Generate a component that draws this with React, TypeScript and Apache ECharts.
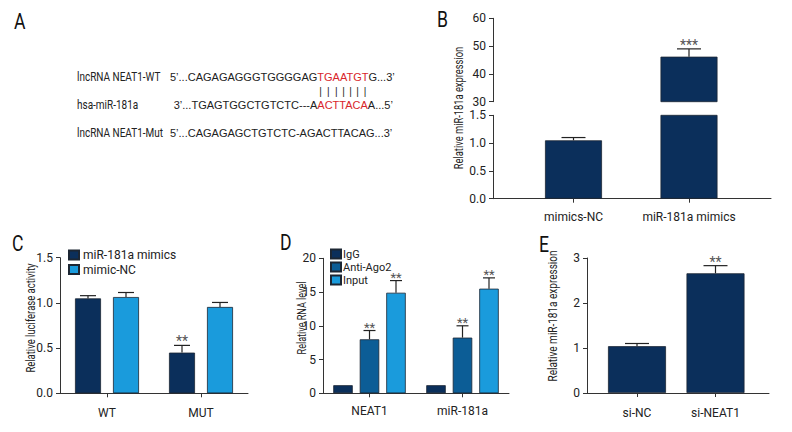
import React, { useEffect, useRef } from "react";
import * as echarts from "echarts";

const COND = 'Roboto, "Liberation Sans", sans-serif';
const SEQ = '"Liberation Sans", "Open Sans", sans-serif';

const DARK = "#0b2f5b";
const MID = "#0c5d96";
const LIGHT = "#1a9bdc";
const INK = "#222222";
const RED = "#d9262b";

// Panel A
const seqNames = ["lncRNA NEAT1-WT", "hsa-miR-181a", "lncRNA NEAT1-Mut"];
const wtParts = ["5’...CAGAGAGGGTGGGGAG", "TGAATGT", "G...3’"];
const mirParts = ["3’...TGAGTGGCTGTCTC---A", "ACTTACA", "A...5’"];
const mutSeq = "5’...CAGAGAGCTGTCTC-AGACTTACAG...3’";

// Panel B
const bCategories = ["mimics-NC", "miR-181a mimics"];
const bValues = [1.05, 46.2];
const bErrors = [1.1, 49.0];
const bSig = ["", "***"];
const bUpperRange = [30, 60, 10];
const bLowerRange = [0, 1.5, 0.5];

// Panel C
const cCategories = ["WT", "MUT"];
const cSeriesNames = ["miR-181a mimics", "mimic-NC"];
const cMimics = [1.05, 0.45];
const cMimicsErr = [1.08, 0.53];
const cMimicsSig = ["", "**"];
const cNC = [1.065, 0.955];
const cNCErr = [1.115, 1.005];
const cNCSig = ["", ""];
const cRange = [0, 1.5, 0.5];

// Panel D
const dCategories = ["NEAT1", "miR-181a"];
const dSeriesNames = ["IgG", "Anti-Ago2", "Input"];
const dIgG = [1.2, 1.2];
const dAgo = [8.0, 8.25];
const dAgoErr = [9.3, 10.0];
const dAgoSig = ["**", "**"];
const dInput = [14.9, 15.5];
const dInputErr = [16.7, 17.1];
const dInputSig = ["**", "**"];
const dRange = [0, 20, 5];

// Panel E
const eCategories = ["si-NC", "si-NEAT1"];
const eValues = [1.04, 2.66];
const eErr = [1.1, 2.83];
const eSig = ["", "**"];
const eRange = [0, 3, 1];

const axisLine = { show: true, onZero: false, lineStyle: { color: "#333", width: 1 } };
const tick = { show: true, length: 4, lineStyle: { color: "#333", width: 1 } };
const lbl = { color: INK, fontFamily: COND, fontSize: 12 };

function yVal(gridIndex: number, range: number[], digits: number, offset = 0) {
  return {
    type: "value", gridIndex, min: range[0], max: range[1], interval: range[2], offset,
    axisLine, axisTick: tick, splitLine: { show: false },
    axisLabel: { ...lbl, margin: 7, formatter: (v: number) => v.toFixed(digits) },
  };
}
function yHidden(gridIndex: number, range: number[]) {
  return { type: "value", gridIndex, min: range[0], max: range[1], show: false, splitLine: { show: false } };
}
function xCat(gridIndex: number, data: string[], showLine = true, show = true, margin = 13) {
  return {
    type: "category", gridIndex, data, show,
    axisLine: { ...axisLine, show: showLine },
    axisTick: { ...tick, alignWithLabel: true },
    axisLabel: { ...lbl, margin, interval: 0 },
    splitLine: { show: false },
  };
}
function xLine(gridIndex: number) {
  return {
    type: "value", gridIndex, min: 0, max: 1, axisLine,
    axisTick: { show: false }, axisLabel: { show: false }, splitLine: { show: false },
  };
}

function errorBars(xi: number, idx: number[], vals: number[], errs: number[], sig: string[], offset: number, capHalf: number, sigSize = 14) {
  return {
    type: "custom", xAxisIndex: xi, yAxisIndex: xi, silent: true, z: 5, clip: false,
    data: idx.map((i) => [i, vals[i], errs[i]]),
    renderItem: (_params: any, api: any) => {
      const i = api.value(0);
      const base = api.coord([i, api.value(1)]);
      const top = api.coord([i, api.value(2)]);
      const x = base[0] + offset;
      const st = { stroke: INK, lineWidth: 1.2 };
      const children: any[] = [
        { type: "line", shape: { x1: x, y1: base[1], x2: x, y2: top[1] }, style: st },
        { type: "line", shape: { x1: x - capHalf, y1: top[1], x2: x + capHalf, y2: top[1] }, style: st },
      ];
      if (sig[i]) {
        children.push({
          type: "text", x, y: top[1] + 3,
          style: {
            text: sig[i], fill: "#555", fontSize: sigSize, fontFamily: COND,
            align: "center", verticalAlign: "bottom", textAlign: "center", textVerticalAlign: "bottom",
          },
        });
      }
      return { type: "group", children };
    },
  };
}

function bar(name: string, xi: number, data: any[], color: string, width: number, gap = "30%") {
  return {
    name, type: "bar", xAxisIndex: xi, yAxisIndex: xi, data, barWidth: width, barGap: gap,
    itemStyle: { color, borderColor: "#1c2633", borderWidth: 0.8 },
  };
}

function txt(text: string, x: number, y: number, size: number, family: string, fill = INK, align = "left", rotation = 0, scaleX = 1) {
  return {
    type: "text", x, y, rotation, scaleX,
    style: {
      text, fill, fontSize: size, fontFamily: family,
      align, verticalAlign: "middle", textAlign: align, textVerticalAlign: "middle",
    },
  };
}

function buildOption() {
  const ctx = document.createElement("canvas").getContext("2d")!;
  const seqSize = 11;
  ctx.font = `${seqSize}px ${SEQ}`;
  const w = (s: string) => ctx.measureText(s).width;

  const seqX = 170;
  const yWT = 77, yBars = 91, yMir = 105, yMut = 133;
  const redX = seqX + w(wtParts[0]);
  const mirX = redX - w(mirParts[0]);

  const g: any[] = [];
  // panel letters
  g.push(txt("A", 14, 22, 22, COND, "#111", "left", 0, 0.8));
  g.push(txt("B", 437, 20, 22, COND, "#111", "left", 0, 0.8));
  g.push(txt("C", 12, 244, 22, COND, "#111", "left", 0, 0.8));
  g.push(txt("D", 280, 243, 22, COND, "#111", "left", 0, 0.8));
  g.push(txt("E", 539, 245, 22, COND, "#111", "left", 0, 0.8));
  // panel A
  g.push(txt(seqNames[0], 77, yWT, 12.5, COND, INK, "left", 0, 0.8));
  g.push(txt(seqNames[1], 77, yMir, 12.5, COND, INK, "left", 0, 0.8));
  g.push(txt(seqNames[2], 77, yMut, 12.5, COND, INK, "left", 0, 0.8));
  g.push(txt(wtParts[0], seqX, yWT, seqSize, SEQ));
  g.push(txt(wtParts[1], redX, yWT, seqSize, SEQ, RED));
  g.push(txt(wtParts[2], redX + w(wtParts[1]), yWT, seqSize, SEQ));
  g.push(txt(mirParts[0], mirX, yMir, seqSize, SEQ));
  g.push(txt(mirParts[1], redX, yMir, seqSize, SEQ, RED));
  g.push(txt(mirParts[2], redX + w(mirParts[1]), yMir, seqSize, SEQ));
  g.push(txt(mutSeq, seqX, yMut, seqSize, SEQ));
  for (let k = 0; k < wtParts[1].length; k++) {
    const cx = redX + w(wtParts[1].slice(0, k)) + w(wtParts[1][k]) / 2;
    g.push(txt("|", cx, yBars, 10, SEQ, INK, "center"));
  }
  // y titles
  g.push(txt("Relative miR-181a expression", 458, 108, 13, COND, INK, "center", Math.PI / 2, 0.72));
  g.push(txt("Relative luciferase activity", 30, 318, 13, COND, INK, "center", Math.PI / 2, 0.73));
  g.push(txt("Relative RNA level", 302, 318, 13, COND, INK, "center", Math.PI / 2, 0.7));
  g.push(txt("Relative miR-181a expression", 553, 316, 13, COND, INK, "center", Math.PI / 2, 0.77));

  const bUpIdx = bValues.map((v, i) => (v > bUpperRange[0] ? i : -1)).filter((i) => i >= 0);
  const bLowIdx = bValues.map((v, i) => (v <= bLowerRange[1] ? i : -1)).filter((i) => i >= 0);

  const dBw = 19.5, dGapPx = 7;
  const dStep = dBw + dGapPx;
  const cBw = 26, cGapPx = 12;
  const cStep = cBw + cGapPx;

  return {
    animation: false,
    textStyle: { fontFamily: COND },
    grid: [
      { left: 515.75, top: 18.3, width: 231, height: 83.4 },
      { left: 515.75, top: 115.3, width: 231, height: 83.4 },
      { left: 493, top: 115.3, width: 278, height: 83.4 },
      { left: 60, top: 257.7, width: 188, height: 135.6 },
      { left: 323, top: 258.3, width: 186, height: 135 },
      { left: 597.75, top: 258, width: 157, height: 135 },
      { left: 587, top: 258, width: 182, height: 135 },
    ],
    xAxis: [
      xCat(0, bCategories, false, false),
      xCat(1, bCategories, false, true, 12),
      xLine(2),
      xCat(3, cCategories, true, true, 14),
      xCat(4, dCategories, true, true, 12),
      xCat(5, eCategories, false, true, 14),
      xLine(6),
    ],
    yAxis: [
      yVal(0, bUpperRange, 0, 22.75),
      yVal(1, bLowerRange, 1, 22.75),
      yHidden(2, [0, 1]),
      yVal(3, cRange, 1),
      yVal(4, dRange, 0),
      yHidden(5, eRange),
      yVal(6, eRange, 0),
    ],
    legend: [
      {
        data: cSeriesNames, orient: "vertical", left: 68, top: 249, padding: 0,
        itemWidth: 10, itemHeight: 9, itemGap: 2.5, icon: "rect", selectedMode: false,
        textStyle: { ...lbl, fontSize: 12, lineHeight: 10, padding: [0, 0, 0, -1] },
      },
      {
        data: dSeriesNames, orient: "vertical", left: 330, top: 248.5, padding: 0,
        itemWidth: 10, itemHeight: 9, itemGap: 2, icon: "rect", selectedMode: false,
        textStyle: { ...lbl, fontSize: 11, lineHeight: 10, padding: [0, 0, 0, -3] },
      },
    ],
    graphic: g,
    series: [
      // B
      bar("B-upper", 0, bValues.map((v) => (v > bUpperRange[0] ? v : "-")), DARK, 57),
      bar("B-lower", 1, bValues, DARK, 57),
      errorBars(0, bUpIdx, bValues, bErrors, bSig, 0, 12),
      errorBars(1, bLowIdx, bValues, bErrors, bSig, 0, 12),
      // C
      bar(cSeriesNames[0], 3, cMimics, DARK, cBw, `${(cGapPx / cBw) * 100}%`),
      bar(cSeriesNames[1], 3, cNC, LIGHT, cBw, `${(cGapPx / cBw) * 100}%`),
      errorBars(3, [0, 1], cMimics, cMimicsErr, cMimicsSig, -cStep / 2, 8),
      errorBars(3, [0, 1], cNC, cNCErr, cNCSig, cStep / 2, 8),
      // D
      bar(dSeriesNames[0], 4, dIgG, DARK, dBw, `${(dGapPx / dBw) * 100}%`),
      bar(dSeriesNames[1], 4, dAgo, MID, dBw, `${(dGapPx / dBw) * 100}%`),
      bar(dSeriesNames[2], 4, dInput, LIGHT, dBw, `${(dGapPx / dBw) * 100}%`),
      errorBars(4, [0, 1], dAgo, dAgoErr, dAgoSig, 0, 6, 13),
      errorBars(4, [0, 1], dInput, dInputErr, dInputSig, dStep, 6, 13),
      // E
      bar("E", 5, eValues, DARK, 58),
      errorBars(5, [0, 1], eValues, eErr, eSig, 0, 12),
    ],
  };
}

export default function App() {
  const ref = useRef<HTMLDivElement>(null);
  useEffect(() => {
    document.body.style.margin = "0";
    const chart = echarts.init(ref.current!, null, { renderer: "svg" });
    chart.setOption(buildOption() as any);
    return () => chart.dispose();
  }, []);
  return <div ref={ref} style={{ width: 792, height: 432 }} />;
}
